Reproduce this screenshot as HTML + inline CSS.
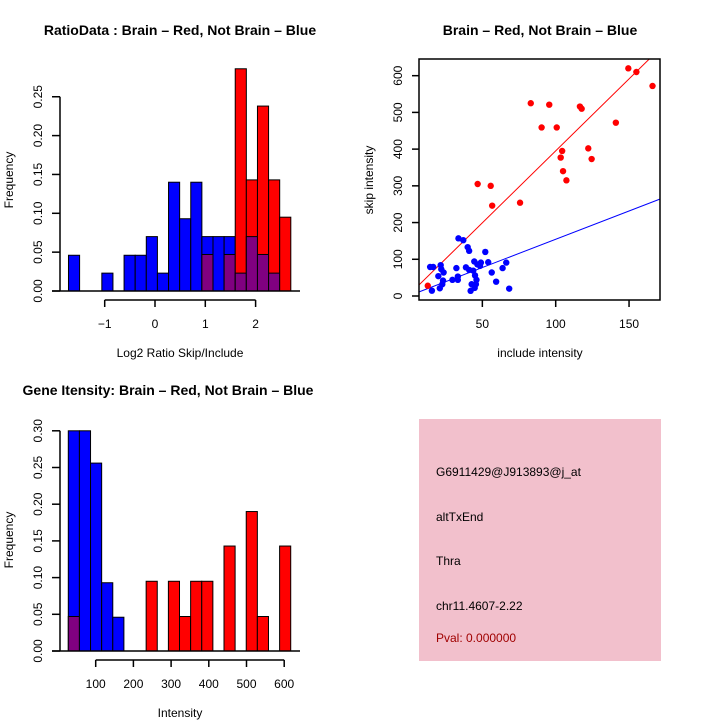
<!DOCTYPE html>
<html><head><meta charset="utf-8"><style>
body{margin:0;background:#fff}
svg{display:block;font-family:"Liberation Sans",sans-serif}
</style></head><body>
<svg id="s" width="720" height="720" viewBox="0 0 720 720">
<rect width="720" height="720" fill="#fff"/>
<text x="180" y="35" text-anchor="middle" font-size="14" font-weight="bold">RatioData : Brain – Red, Not Brain – Blue</text>
<text x="540" y="35" text-anchor="middle" font-size="14" font-weight="bold">Brain – Red, Not Brain – Blue</text>
<text x="168" y="395" text-anchor="middle" font-size="14" font-weight="bold">Gene Itensity: Brain – Red, Not Brain – Blue</text>
<g id="info">
<rect x="419" y="419" width="242" height="242" fill="#f2c0cc"/>
<text x="436" y="476" font-size="12">G6911429@J913893@j_at</text>
<text x="436" y="521" font-size="12">altTxEnd</text>
<text x="436" y="565" font-size="12">Thra</text>
<text x="436" y="610" font-size="12">chr11.4607-2.22</text>
<text x="436" y="642" font-size="12" fill="#a00000">Pval: 0.000000</text>
</g>
</svg>
<script>
// ---- Ratio histogram data ----
const ratioBlue = [0.046,0,0,0.023,0,0.046,0.046,0.07,0.023,0.14,0.093,0.14,0.07,0.07,0.07,0.023,0.07,0.047,0.023,0];
const ratioRed  = [0,0,0,0,0,0,0,0,0,0,0,0,0.047,0,0.047,0.286,0.143,0.238,0.143,0.095];
const ratioXTicks = [-1,0,1,2];
const ratioYTicks = [0,0.05,0.10,0.15,0.20,0.25];
const ratioYLabels = ["0.00","0.05","0.10","0.15","0.20","0.25"];
// ---- Intensity histogram data ----
const intBlue = [0.30,0.30,0.256,0.093,0.046,0,0,0,0,0,0,0,0,0,0,0,0,0,0,0];
const intRed  = [0.047,0,0,0,0,0,0,0.095,0,0.095,0.047,0.095,0.095,0,0.143,0,0.19,0.047,0,0.143];
const intXTicks = [100,200,300,400,500,600];
const intYTicks = [0,0.05,0.10,0.15,0.20,0.25,0.30];
const intYLabels = ["0.00","0.05","0.10","0.15","0.20","0.25","0.30"];
// ---- Scatter data ----
const redX = [12.8,46.8,55.7,56.7,75.7,83,90.4,95.6,100.7,103.4,104.4,105,107.3,116.5,117.7,122.2,124.5,141,149.5,155,166];
const redY = [28,305,300,246,254,525,459,521,459,377,395,340,315,516,510,402,373,472,620,610,572];
const blueX = [15.6,14.4,16.5,20,21.6,22,21,22.7,23.2,23.6,29.6,32.3,33.3,33.7,33.3,37,38.8,40,41,41,42,42.7,43.8,44.5,44.8,45,45.6,46,46.6,49,48.4,52,54,56.4,59.4,63.8,66.3,68.3];
const blueY = [14.5,79,79,54,84,73,21,32,42,64,44,76,53,157,44,152,78,133,123,71,14,32,69,94,22,56,32,44,86,91,82,120,92,64,39,76,91,20];
const redFit = [3.3,3.92];
const blueFit = [0.5,1.54];
const scXTicks = [50,100,150];
const scYTicks = [0,100,200,300,400,500,600];

const NS="http://www.w3.org/2000/svg", svg=document.getElementById('s');
function mk(tag,attrs,parent){const e=document.createElementNS(NS,tag);for(const k in attrs)e.setAttribute(k,attrs[k]);(parent||svg).appendChild(e);return e;}
function line(x1,y1,x2,y2,stroke,w,p){return mk('line',{x1,y1,x2,y2,stroke,'stroke-width':w||1},p);}
function txt(x,y,s,attrs,p){const t=mk('text',Object.assign({x,y,'font-size':12},attrs||{}),p);t.textContent=s;return t;}

function hist(cfg){
  const g=mk('g',{});
  
  
  const X=v=>cfg.x0+(v-cfg.d0)*cfg.sx, Y=v=>cfg.y0-v*cfg.sy;
  const n=cfg.blue.length;
  for(let i=0;i<n;i++){
    const b=cfg.blue[i], r=cfg.red[i];
    const xa=X(cfg.b0+i*cfg.bw), xb=X(cfg.b0+(i+1)*cfg.bw);
    const mx=Math.max(b,r), mn=Math.min(b,r);
    if(mx<=0) continue;
    const rc=mk('rect',{x:xa,y:Y(mx),width:xb-xa,height:Y(0)-Y(mx),fill:r>=b?'#ff0000':'#0000ff',stroke:'#000','stroke-width':1},g);
    
    
    if(mn>0){
      const pc=mk('rect',{x:xa,y:Y(mn),width:xb-xa,height:Y(0)-Y(mn),fill:'#800080',stroke:'#000','stroke-width':1},g);
      
      
    }
  }
  line(cfg.ax0,Y(0),cfg.ax1,Y(0),'#000',1.5,g);
  // x axis
  const xa=mk('g',{},g);
  
  
  const ay=Y(0)+9;
  line(X(cfg.xt[0]),ay,X(cfg.xt[cfg.xt.length-1]),ay,'#000',1.5,xa);
  cfg.xt.forEach(v=>{line(X(v),ay,X(v),ay+7,'#000',1.5,xa);txt(X(v),ay+28,v===-1?'−1':String(v),{'text-anchor':'middle'},xa);});
  // y axis
  const ya=mk('g',{},g);
  
  
  line(60,Y(cfg.yt[0]),60,Y(cfg.yt[cfg.yt.length-1]),'#000',1.5,ya);
  cfg.yt.forEach((v,i)=>{line(52,Y(v),60,Y(v),'#000',1.5,ya);const t=txt(0,0,cfg.yl[i],{'text-anchor':'middle',transform:`translate(42,${Y(v)}) rotate(-90)`},ya);});
  const xl=txt(cfg.xlx,cfg.xly,cfg.xlabel,{'text-anchor':'middle'},g);
  
  
  const yl=txt(0,0,'Frequency',{'text-anchor':'middle',transform:`translate(13,${cfg.ylc}) rotate(-90)`},g);
  
  
}
hist({name:'ratio-histogram',blue:ratioBlue,red:ratioRed,x0:155,d0:0,sx:50.3,y0:291,sy:777,b0:-1.72,bw:0.221,ax0:52,ax1:300,xt:ratioXTicks,yt:ratioYTicks,yl:ratioYLabels,xlabel:'Log2 Ratio Skip/Include',xlx:180,xly:357,ylc:180});
hist({name:'intensity-histogram',blue:intBlue,red:intRed,x0:58,d0:0,sx:0.377,y0:651,sy:734,b0:27.3,bw:29.5,ax0:52,ax1:300,xt:intXTicks,yt:intYTicks,yl:intYLabels,xlabel:'Intensity',xlx:180,xly:717,ylc:540});

// scatter
(function(){
  const g=mk('g',{});
  
  
  const L=419,R=660,T=59,B=300;
  const X=v=>409+v*1.467, Y=v=>296-v*0.3672;
  const cp=mk('clipPath',{id:'cp'},g);mk('rect',{x:L,y:T,width:R-L,height:B-T},cp);
  const fits=mk('g',{'clip-path':'url(#cp)'},g);
  [[redFit,'#ff0000','red-fit-line'],[blueFit,'#0000ff','blue-fit-line']].forEach(([f,c,n])=>{
    const x1=0,x2=200;
    const l=line(X(x1),Y(f[0]+f[1]*x1),X(x2),Y(f[0]+f[1]*x2),c,1,fits);
    
    
  });
  redX.forEach((v,i)=>{const c=mk('circle',{cx:X(v),cy:Y(redY[i]),r:3.2,fill:'#ff0000'},g);
    
    });
  blueX.forEach((v,i)=>{const c=mk('circle',{cx:X(v),cy:Y(blueY[i]),r:3.2,fill:'#0000ff'},g);
    
    });
  mk('rect',{x:L,y:T,width:R-L,height:B-T,fill:'none',stroke:'#000','stroke-width':1.5},g);
  const xa=mk('g',{},g);
  
  
  scXTicks.forEach(v=>{line(X(v),B,X(v),B+7,'#000',1.5,xa);txt(X(v),B+28,String(v),{'text-anchor':'middle'},xa);});
  const ya=mk('g',{},g);
  
  
  scYTicks.forEach(v=>{line(L-7,Y(v),L,Y(v),'#000',1.5,ya);txt(0,0,String(v),{'text-anchor':'middle',transform:`translate(402,${Y(v)}) rotate(-90)`},ya);});
  const xl=txt(540,357,'include intensity',{'text-anchor':'middle'},g);
  
  
  const yl=txt(0,0,'skip intensity',{'text-anchor':'middle',transform:'translate(373,180) rotate(-90)'},g);
  
  
})();
</script>
</body></html>
